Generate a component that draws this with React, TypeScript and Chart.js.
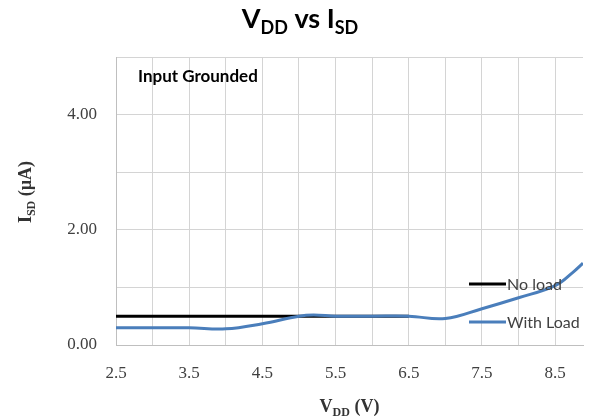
import React, { useEffect, useRef } from 'react';
import { Chart, registerables } from 'chart.js';

Chart.register(...registerables);

const X_TICKS = [2.5, 3, 3.5, 4, 4.5, 5, 5.5, 6, 6.5, 7, 7.5, 8, 8.5];
const X_LABELED = [2.5, 3.5, 4.5, 5.5, 6.5, 7.5, 8.5];
const Y_TICKS = [0, 1, 2, 3, 4, 5];
const Y_LABELED = [0, 2, 4];
const X_MIN = 2.5;
const X_MAX = 8.88;
const Y_MIN = 0;
const Y_MAX = 5;

const noLoadVdd = [2.5, 3.5, 4.5, 5.5, 6.5];
const noLoadIsd = [0.5, 0.5, 0.5, 0.5, 0.5];

const withLoadVdd = [2.5, 3.0, 3.5, 4.0, 4.5, 5.0, 5.2, 5.5, 6.0, 6.5, 7.0, 7.5, 8.0, 8.5, 8.75, 8.88];
const withLoadIsd = [0.3, 0.3, 0.3, 0.28, 0.37, 0.5, 0.52, 0.5, 0.5, 0.5, 0.46, 0.63, 0.82, 1.03, 1.27, 1.42];

const SERIES_NAMES = ['No load', 'With Load'];
const SERIES_COLORS = ['#000000', '#4a7ebb'];

type Part = { t: string; sub?: boolean };

function drawRich(
  ctx: CanvasRenderingContext2D,
  parts: Part[],
  x: number,
  y: number,
  size: number,
  family: string,
  weight: string,
  color: string
) {
  const subSize = Math.round(size * 0.68);
  let total = 0;
  const widths: number[] = [];
  for (const p of parts) {
    ctx.font = `${weight} ${p.sub ? subSize : size}px ${family}`;
    const w = ctx.measureText(p.t).width;
    widths.push(w);
    total += w;
  }
  let cx = x - total / 2;
  ctx.fillStyle = color;
  ctx.textAlign = 'left';
  ctx.textBaseline = 'alphabetic';
  parts.forEach((p, i) => {
    ctx.font = `${weight} ${p.sub ? subSize : size}px ${family}`;
    ctx.fillText(p.t, cx, y + (p.sub ? size * 0.22 : 0));
    cx += widths[i];
  });
}

const textPlugin = {
  id: 'customTexts',
  afterDraw(chart: any) {
    const ctx: CanvasRenderingContext2D = chart.ctx;
    const area = chart.chartArea;
    ctx.save();
    drawRich(
      ctx,
      [{ t: 'V' }, { t: 'DD', sub: true }, { t: ' vs I' }, { t: 'SD', sub: true }],
      300,
      28,
      27,
      'Lato, "Open Sans", sans-serif',
      'bold',
      '#000000'
    );
    ctx.font = 'bold 17px Lato, "Open Sans", sans-serif';
    ctx.fillStyle = '#000000';
    ctx.textAlign = 'left';
    ctx.textBaseline = 'alphabetic';
    ctx.fillText('Input Grounded', 138, 82);
    drawRich(
      ctx,
      [{ t: 'V' }, { t: 'DD', sub: true }, { t: ' (V)' }],
      (area.left + area.right) / 2,
      412,
      18,
      '"Liberation Serif", "Times New Roman", serif',
      'bold',
      '#333333'
    );
    ctx.save();
    ctx.translate(31, 192);
    ctx.rotate(-Math.PI / 2);
    drawRich(
      ctx,
      [{ t: 'I' }, { t: 'SD', sub: true }, { t: ' (µA)' }],
      0,
      0,
      18,
      '"Liberation Serif", "Times New Roman", serif',
      'bold',
      '#333333'
    );
    ctx.restore();
    const legendY = [284, 322];
    SERIES_NAMES.forEach((name, i) => {
      ctx.strokeStyle = SERIES_COLORS[i];
      ctx.lineWidth = 3;
      ctx.beginPath();
      ctx.moveTo(469, legendY[i]);
      ctx.lineTo(506, legendY[i]);
      ctx.stroke();
      ctx.font = '16px Lato, "Open Sans", sans-serif';
      ctx.fillStyle = '#404040';
      ctx.textAlign = 'left';
      ctx.textBaseline = 'middle';
      ctx.fillText(name, 507, legendY[i] + 1);
    });
    ctx.restore();
  },
};

export default function App() {
  const canvasRef = useRef<HTMLCanvasElement | null>(null);

  useEffect(() => {
    const canvas = canvasRef.current;
    if (!canvas) return;
    const chart = new Chart(canvas, {
      type: 'line',
      data: {
        datasets: [
          {
            label: SERIES_NAMES[0],
            data: noLoadVdd.map((x, i) => ({ x, y: noLoadIsd[i] })),
            borderColor: SERIES_COLORS[0],
            borderWidth: 3,
            pointRadius: 0,
            fill: false,
            order: 1,
            tension: 0,
          },
          {
            label: SERIES_NAMES[1],
            data: withLoadVdd.map((x, i) => ({ x, y: withLoadIsd[i] })),
            borderColor: SERIES_COLORS[1],
            borderWidth: 3,
            pointRadius: 0,
            fill: false,
            order: 0,
            tension: 0.4,
          },
        ],
      },
      options: {
        responsive: false,
        animation: false,
        layout: { padding: { top: 57, right: 9, left: 0, bottom: 0 } },
        plugins: {
          legend: { display: false },
          tooltip: { enabled: false },
          title: { display: false },
        },
        scales: {
          x: {
            type: 'linear',
            min: X_MIN,
            max: X_MAX,
            afterBuildTicks: (scale: any) => {
              scale.ticks = X_TICKS.map((v) => ({ value: v }));
            },
            afterFit: (scale: any) => {
              scale.height = 75;
            },
            grid: { color: '#d4d4d4', lineWidth: 1, drawTicks: false },
            border: { color: '#bfbfbf', width: 1 },
            ticks: {
              autoSkip: false,
              maxRotation: 0,
              minRotation: 0,
              padding: 18,
              color: '#404040',
              font: { family: '"Liberation Serif", "Times New Roman", serif', size: 17 },
              callback: (v: any) => (X_LABELED.includes(Number(v)) ? Number(v).toFixed(1) : ''),
            },
          },
          y: {
            type: 'linear',
            min: Y_MIN,
            max: Y_MAX,
            afterBuildTicks: (scale: any) => {
              scale.ticks = Y_TICKS.map((v) => ({ value: v }));
            },
            afterFit: (scale: any) => {
              scale.width = 116;
            },
            grid: { color: '#d4d4d4', lineWidth: 1, drawTicks: false },
            border: { color: '#bfbfbf', width: 1 },
            ticks: {
              autoSkip: false,
              padding: 19,
              color: '#404040',
              font: { family: '"Liberation Serif", "Times New Roman", serif', size: 17 },
              callback: (v: any) => (Y_LABELED.includes(Number(v)) ? Number(v).toFixed(2) : ''),
            },
          },
        },
      },
      plugins: [textPlugin],
    } as any);
    return () => chart.destroy();
  }, []);

  return (
    <div style={{ position: 'absolute', left: 0, top: 0, width: 592, height: 420, background: '#ffffff' }}>
      <canvas ref={canvasRef} width={592} height={420} style={{ display: 'block' }} />
    </div>
  );
}
